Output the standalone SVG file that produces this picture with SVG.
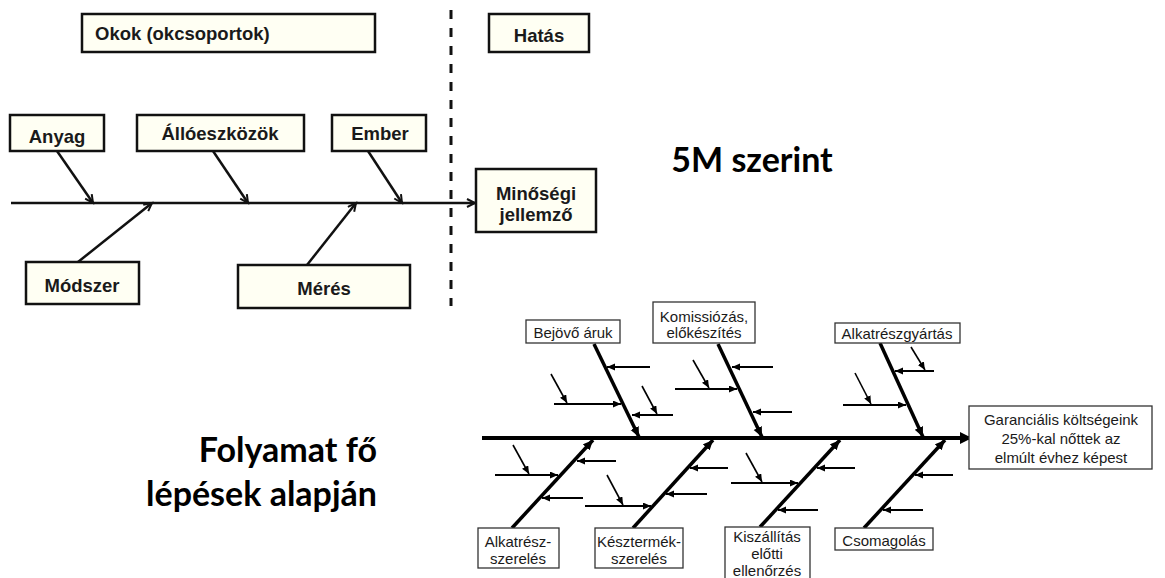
<svg xmlns="http://www.w3.org/2000/svg" width="1165" height="578" viewBox="0 0 1165 578">
<style>
.tb{fill:#fffff3;stroke:#111;stroke-width:2.5}
.tt{font-family:"Liberation Sans",Arial,sans-serif;font-weight:bold;font-size:18.5px;fill:#1a1a1a}
.tl{stroke:#111;stroke-width:2.5;fill:none}
.bb{fill:#fff;stroke:#333;stroke-width:1.3}
.bt{font-family:"Liberation Sans",Arial,sans-serif;font-size:15px;fill:#1a1a1a;text-anchor:middle}
.big{font-family:Lato,"Open Sans",sans-serif;font-weight:bold;font-size:34px;fill:#000}
.bone{stroke:#000;stroke-width:3.5;fill:none}
.sub{stroke:#000;stroke-width:2;fill:none}
.dg{stroke:#000;stroke-width:1.6;fill:none}
</style>
<defs>
<marker id="mo" markerUnits="userSpaceOnUse" markerWidth="12" markerHeight="12" refX="9" refY="5" orient="auto">
<path d="M1,1 L9,5 L1,9" fill="none" stroke="#111" stroke-width="2"/>
</marker>
<marker id="mb" markerUnits="userSpaceOnUse" markerWidth="14" markerHeight="12" refX="12" refY="6" orient="auto">
<path d="M0,0 L12,6 L0,12 z" fill="#000"/>
</marker>
<marker id="mm" markerUnits="userSpaceOnUse" markerWidth="12" markerHeight="10" refX="10" refY="4.5" orient="auto">
<path d="M0,0 L10,4.5 L0,9 z" fill="#000"/>
</marker>
<marker id="ms" markerUnits="userSpaceOnUse" markerWidth="10" markerHeight="8" refX="8" refY="3.5" orient="auto">
<path d="M0,0 L8,3.5 L0,7 z" fill="#000"/>
</marker>
</defs>

<!-- Top diagram -->
<g id="connectors-top">
<line class="tl" x1="11" y1="203" x2="475" y2="203" marker-end="url(#mo)"/>
<line class="tl" x1="57" y1="151" x2="93" y2="203" marker-end="url(#mo)"/>
<line class="tl" x1="213" y1="151" x2="248" y2="203" marker-end="url(#mo)"/>
<line class="tl" x1="368" y1="151" x2="402" y2="203" marker-end="url(#mo)"/>
<line class="tl" x1="78" y1="262" x2="152" y2="203" marker-end="url(#mo)"/>
<line class="tl" x1="307" y1="265" x2="356" y2="203" marker-end="url(#mo)"/>
<line x1="451" y1="10" x2="451" y2="306" stroke="#111" stroke-width="3" stroke-dasharray="9,9"/>
</g>
<g id="okok"><rect class="tb" x="82" y="14" width="293" height="38"/><text class="tt" x="95" y="40">Okok (okcsoportok)</text></g>
<g id="hatas"><rect class="tb" x="489" y="14" width="100" height="38"/><text class="tt" x="539" y="42" text-anchor="middle">Hatás</text></g>
<g id="anyag"><rect class="tb" x="10" y="115" width="94" height="36"/><text class="tt" x="57" y="143" text-anchor="middle">Anyag</text></g>
<g id="alloeszkozok"><rect class="tb" x="137" y="115" width="167" height="36"/><text class="tt" x="220" y="140" text-anchor="middle">Állóeszközök</text></g>
<g id="ember"><rect class="tb" x="332" y="115" width="94" height="36"/><text class="tt" x="380" y="140" text-anchor="middle">Ember</text></g>
<g id="modszer"><rect class="tb" x="26" y="262" width="113" height="42"/><text class="tt" x="82" y="292" text-anchor="middle">Módszer</text></g>
<g id="meres"><rect class="tb" x="238" y="265" width="172" height="43"/><text class="tt" x="324" y="295" text-anchor="middle">Mérés</text></g>
<g id="minosegi"><rect class="tb" x="476" y="169" width="120" height="63"/><text class="tt" x="536" y="200" text-anchor="middle">Minőségi</text><text class="tt" x="536" y="221" text-anchor="middle">jellemző</text></g>

<g id="label-5m"><text class="big" x="752" y="172" text-anchor="middle">5M szerint</text></g>
<g id="label-folyamat"><text class="big" x="377" y="462" text-anchor="end">Folyamat fő</text><text class="big" x="377" y="506" text-anchor="end">lépések alapján</text></g>

<!-- Bottom fishbone -->
<g id="connectors-bottom">
<line x1="482" y1="438" x2="972" y2="438" stroke="#000" stroke-width="4" marker-end="url(#mb)"/>
<line class="bone" x1="594" y1="344" x2="639" y2="437" marker-end="url(#mm)"/>
<line class="bone" x1="718" y1="344" x2="762" y2="437" marker-end="url(#mm)"/>
<line class="bone" x1="880" y1="343" x2="923" y2="437" marker-end="url(#mm)"/>
<line class="bone" x1="512" y1="528" x2="593" y2="440" marker-end="url(#mm)"/>
<line class="bone" x1="633" y1="528" x2="713" y2="440" marker-end="url(#mm)"/>
<line class="bone" x1="760" y1="527" x2="840" y2="440" marker-end="url(#mm)"/>
<line class="bone" x1="864" y1="528" x2="945" y2="440" marker-end="url(#mm)"/>

<line class="sub" x1="650" y1="367" x2="607" y2="367" marker-end="url(#ms)"/>
<line class="sub" x1="554" y1="404" x2="621" y2="404" marker-end="url(#ms)"/>
<line class="sub" x1="673" y1="415" x2="632" y2="415" marker-end="url(#ms)"/>
<line class="sub" x1="773" y1="367" x2="732" y2="367" marker-end="url(#ms)"/>
<line class="sub" x1="675" y1="389" x2="737" y2="389" marker-end="url(#ms)"/>
<line class="sub" x1="792" y1="412" x2="753" y2="412" marker-end="url(#ms)"/>
<line class="sub" x1="934" y1="371" x2="895" y2="371" marker-end="url(#ms)"/>
<line class="sub" x1="843" y1="405" x2="906" y2="405" marker-end="url(#ms)"/>
<line class="sub" x1="616" y1="461" x2="577" y2="461" marker-end="url(#ms)"/>
<line class="sub" x1="495" y1="475" x2="558" y2="475" marker-end="url(#ms)"/>
<line class="sub" x1="583" y1="498" x2="542" y2="498" marker-end="url(#ms)"/>
<line class="sub" x1="728" y1="468" x2="690" y2="468" marker-end="url(#ms)"/>
<line class="sub" x1="707" y1="494" x2="666" y2="494" marker-end="url(#ms)"/>
<line class="sub" x1="585" y1="506" x2="651" y2="506" marker-end="url(#ms)"/>
<line class="sub" x1="855" y1="468" x2="817" y2="468" marker-end="url(#ms)"/>
<line class="sub" x1="731" y1="483" x2="798" y2="483" marker-end="url(#ms)"/>
<line class="sub" x1="818" y1="510" x2="778" y2="510" marker-end="url(#ms)"/>
<line class="sub" x1="953" y1="475" x2="915" y2="475" marker-end="url(#ms)"/>
<line class="sub" x1="923" y1="510" x2="883" y2="510" marker-end="url(#ms)"/>

<line class="dg" x1="551" y1="374" x2="567" y2="403" marker-end="url(#ms)"/>
<line class="dg" x1="642" y1="386" x2="657" y2="414" marker-end="url(#ms)"/>
<line class="dg" x1="693" y1="360" x2="709" y2="388" marker-end="url(#ms)"/>
<line class="dg" x1="911" y1="347" x2="925" y2="370" marker-end="url(#ms)"/>
<line class="dg" x1="855" y1="373" x2="871" y2="404" marker-end="url(#ms)"/>
<line class="dg" x1="513" y1="445" x2="529" y2="474" marker-end="url(#ms)"/>
<line class="dg" x1="607" y1="475" x2="623" y2="505" marker-end="url(#ms)"/>
<line class="dg" x1="746" y1="453" x2="762" y2="482" marker-end="url(#ms)"/>
</g>

<g id="bejovo"><rect class="bb" x="526" y="320" width="94" height="23"/><text class="bt" x="573" y="338">Bejövő áruk</text></g>
<g id="komissiozas"><rect class="bb" x="653" y="302" width="102" height="41"/><text class="bt" x="704" y="322">Komissiózás,</text><text class="bt" x="704" y="338">előkészítés</text></g>
<g id="alkatreszgyartas"><rect class="bb" x="835" y="323" width="125" height="20"/><text class="bt" x="897" y="339">Alkatrészgyártás</text></g>
<g id="garancialis"><rect class="bb" x="969" y="406" width="183" height="63"/><text class="bt" x="1061" y="425">Garanciális költségeink</text><text class="bt" x="1061" y="444">25%-kal nőttek az</text><text class="bt" x="1061" y="463">elmúlt évhez képest</text></g>
<g id="alkatresz-szereles"><rect class="bb" x="478" y="528" width="81" height="40"/><text class="bt" x="518" y="547">Alkatrész-</text><text class="bt" x="518" y="564">szerelés</text></g>
<g id="keszermek-szereles"><rect class="bb" x="595" y="528" width="88" height="40"/><text class="bt" x="639" y="547">Késztermék-</text><text class="bt" x="639" y="564">szerelés</text></g>
<g id="kiszallitas"><rect class="bb" x="725" y="527" width="85" height="60"/><text class="bt" x="767" y="542">Kiszállítás</text><text class="bt" x="767" y="559">előtti</text><text class="bt" x="767" y="576">ellenőrzés</text></g>
<g id="csomagolas"><rect class="bb" x="835" y="528" width="98" height="22"/><text class="bt" x="884" y="546">Csomagolás</text></g>
</svg>
